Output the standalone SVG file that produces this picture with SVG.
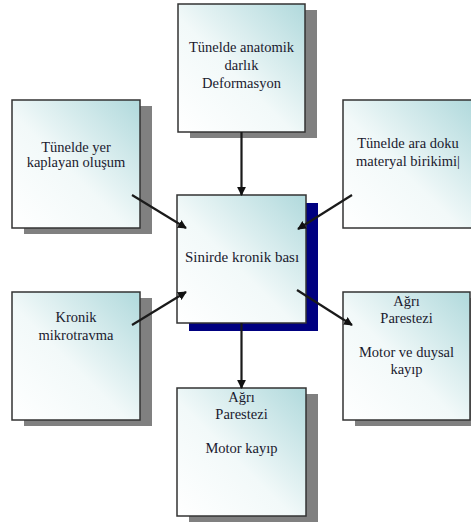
<svg xmlns="http://www.w3.org/2000/svg" width="471" height="523" viewBox="0 0 471 523">
<defs>
<linearGradient id="g" x1="0" y1="1" x2="1" y2="0">
<stop offset="0" stop-color="#ffffff"/>
<stop offset="0.45" stop-color="#f2f9f9"/>
<stop offset="1" stop-color="#b0d9dc"/>
</linearGradient>
<marker id="ah" viewBox="0 0 10 10" refX="9" refY="5" markerWidth="4" markerHeight="4" orient="auto" markerUnits="strokeWidth">
<path d="M0,0 L10,5 L0,10 z" fill="#111"/>
</marker>
<style>
.box{fill:url(#g);stroke:#333;stroke-width:1.5}
.sh{fill:#808080}
.nv{fill:#000080}
.t{font-family:'Liberation Serif','DejaVu Serif','Times New Roman',serif;font-size:14.5px;fill:#1a1a2e;text-anchor:middle}
.c{stroke:#1a1a1a;stroke-width:2.2;fill:none;marker-end:url(#ah)}
</style>
</defs>
<rect width="471" height="523" fill="#fff"/>
<g id="n-top">
<rect class="sh" x="190" y="10" width="127" height="128"/>
<rect class="box" x="178" y="4" width="127" height="128"/>
<text class="t" font-family="Liberation Serif, serif" x="241.5" y="52">Tünelde anatomik</text>
<text class="t" font-family="Liberation Serif, serif" x="241.5" y="70">darlık</text>
<text class="t" font-family="Liberation Serif, serif" x="241.5" y="88">Deformasyon</text>
</g>
<g id="n-lefttop">
<rect class="sh" x="24" y="106" width="128" height="128"/>
<rect class="box" x="12" y="100" width="128" height="128"/>
<text class="t" font-family="Liberation Serif, serif" x="76" y="152">Tünelde yer</text>
<text class="t" font-family="Liberation Serif, serif" x="76" y="167">kaplayan oluşum</text>
</g>
<g id="n-righttop">
<rect class="box" x="343" y="100" width="130" height="128"/>
<text class="t" font-family="Liberation Serif, serif" x="408" y="148">Tünelde ara doku</text>
<text class="t" font-family="Liberation Serif, serif" x="408" y="166">materyal birikimi|</text>
</g>
<g id="n-leftbottom">
<rect class="sh" x="24" y="298" width="128" height="128"/>
<rect class="box" x="12" y="292" width="128" height="128"/>
<text class="t" font-family="Liberation Serif, serif" x="76" y="322">Kronik</text>
<text class="t" font-family="Liberation Serif, serif" x="76" y="340">mikrotravma</text>
</g>
<g id="n-rightbottom">
<rect class="sh" x="355" y="298" width="127" height="128"/>
<rect class="box" x="343" y="292" width="127" height="128"/>
<text class="t" font-family="Liberation Serif, serif" x="406.5" y="306">Ağrı</text>
<text class="t" font-family="Liberation Serif, serif" x="406.5" y="323">Parestezi</text>
<text class="t" font-family="Liberation Serif, serif" x="406.5" y="357">Motor ve duysal</text>
<text class="t" font-family="Liberation Serif, serif" x="406.5" y="374">kayıp</text>
</g>
<g id="n-bottom">
<rect class="sh" x="189" y="394" width="129" height="128"/>
<rect class="box" x="177" y="388" width="129" height="128"/>
<text class="t" font-family="Liberation Serif, serif" x="241.5" y="402">Ağrı</text>
<text class="t" font-family="Liberation Serif, serif" x="241.5" y="419">Parestezi</text>
<text class="t" font-family="Liberation Serif, serif" x="241.5" y="453">Motor kayıp</text>
</g>
<g id="n-center">
<rect class="nv" x="189" y="203" width="129" height="128"/>
<rect class="box" x="177" y="195" width="129" height="128"/>
<text class="t" font-family="Liberation Serif, serif" x="242" y="262" style="font-size:15px">Sinirde kronik bası</text>
</g>
<g id="connectors">
<line class="c" x1="241.5" y1="132" x2="241.5" y2="195"/>
<line class="c" x1="132" y1="195" x2="186" y2="228"/>
<line class="c" x1="352" y1="195" x2="298" y2="229"/>
<line class="c" x1="132" y1="325" x2="186" y2="292"/>
<line class="c" x1="297" y1="290" x2="352" y2="325"/>
<line class="c" x1="241.5" y1="323" x2="241.5" y2="388"/>
</g>
</svg>
